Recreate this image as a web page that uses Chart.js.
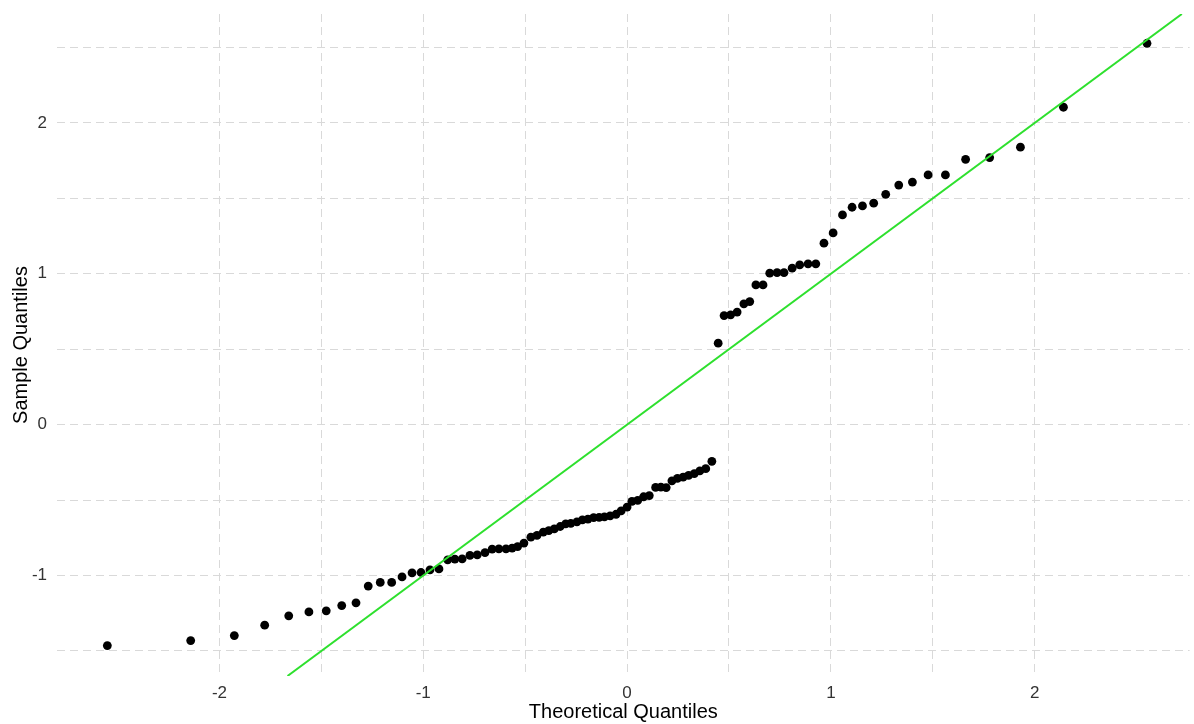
<!DOCTYPE html>
<html>
<head>
<meta charset="utf-8">
<script src="https://cdn.jsdelivr.net/npm/chart.js@4/dist/chart.umd.min.js"></script>
<style>
  html, body { margin: 0; padding: 0; background: #fff; }
  #wrap { width: 1194px; height: 724px; }
</style>
</head>
<body>
<div id="wrap"><canvas id="qq" width="1194" height="724"></canvas></div>
<script>
// theoretical quantiles (x) and sample quantiles (y)
const theoreticalQ = [
  -2.550, -2.141, -1.927, -1.778, -1.660, -1.561, -1.476, -1.400, -1.330, -1.270,
  -1.211, -1.155, -1.104, -1.055, -1.011, -0.967, -0.923, -0.880, -0.845, -0.809,
  -0.771, -0.735, -0.697, -0.662, -0.629, -0.594, -0.564, -0.537, -0.506, -0.472,
  -0.442, -0.411, -0.384, -0.357, -0.328, -0.301, -0.276, -0.246, -0.219, -0.192,
  -0.164, -0.137, -0.111, -0.083, -0.054, -0.029, 0.000, 0.024, 0.052, 0.081,
  0.109, 0.140, 0.166, 0.192, 0.220, 0.247, 0.275, 0.302, 0.330, 0.357,
  0.386, 0.416,
  0.447, 0.476, 0.508, 0.540, 0.573, 0.602, 0.632, 0.667, 0.700, 0.736,
  0.770, 0.810, 0.847, 0.888, 0.926, 0.966, 1.011, 1.057, 1.104, 1.155,
  1.210, 1.269, 1.333, 1.400, 1.477, 1.562, 1.661, 1.779, 1.930, 2.141,
  2.551
];
const sampleQ = [
  -1.464, -1.431, -1.398, -1.329, -1.267, -1.241, -1.234, -1.199, -1.181, -1.070,
  -1.046, -1.046, -1.009, -0.982, -0.980, -0.962, -0.956, -0.896, -0.891, -0.889,
  -0.867, -0.863, -0.848, -0.825, -0.823, -0.823, -0.818, -0.808, -0.785, -0.746,
  -0.734, -0.712, -0.702, -0.691, -0.675, -0.657, -0.654, -0.644, -0.631, -0.626,
  -0.616, -0.614, -0.611, -0.604, -0.594, -0.571, -0.546, -0.508, -0.502, -0.478,
  -0.470, -0.416, -0.414, -0.417, -0.372, -0.356, -0.348, -0.336, -0.324, -0.307,
  -0.292, -0.243,
  0.540, 0.723, 0.728, 0.746, 0.801, 0.816, 0.926, 0.926, 1.004, 1.008,
  1.008, 1.037, 1.059, 1.066, 1.066, 1.203, 1.271, 1.390, 1.441, 1.450,
  1.468, 1.527, 1.588, 1.608, 1.655, 1.655, 1.759, 1.770, 1.839, 2.104,
  2.528
];

// reference line y = intercept + slope * x
const lineSlope = 1;
const lineIntercept = 0;

const xTickLabels = [-2, -1, 0, 1, 2];
const yTickLabels = [-1, 0, 1, 2];

const xMin = -2.797, xMax = 2.76;
const yMin = -1.666, yMax = 2.722;

const points = theoreticalQ.map((x, i) => ({ x: x, y: sampleQ[i] }));
const linePts = [yMin, yMax].map(y => ({ x: (y - lineIntercept) / lineSlope, y: y }));

Chart.defaults.font.family = "'Liberation Sans', Arial, sans-serif";

function tickText(list) {
  return function (value) {
    const v = Math.round(value * 1000) / 1000;
    if (list.includes(v)) return String(v);
    if (Math.abs(v * 2 - Math.round(v * 2)) < 1e-6) return '';
    return null;
  };
}
function gridColor(c) {
  const v = c.tick ? c.tick.value : 0;
  return Math.abs(v * 2 - Math.round(v * 2)) < 1e-6 ? '#d9d9d9' : 'rgba(0,0,0,0)';
}

const ctx = document.getElementById('qq').getContext('2d');
new Chart(ctx, {
  type: 'scatter',
  data: {
    datasets: [
      {
        type: 'line',
        label: 'qq line',
        data: linePts,
        borderColor: '#2ee02e',
        borderWidth: 2,
        pointRadius: 0,
        fill: false
      },
      {
        label: 'sample',
        data: points,
        backgroundColor: '#000',
        borderWidth: 0,
        pointRadius: 4.4
      }
    ]
  },
  options: {
    responsive: false,
    animation: false,
    layout: { padding: { left: 0, right: 0, top: 14, bottom: 0 } },
    plugins: { legend: { display: false }, tooltip: { enabled: false } },
    scales: {
      x: {
        type: 'linear',
        min: xMin,
        max: xMax,
        afterFit: s => { s.height = 48; s.paddingLeft = 0; s.paddingRight = 0; },
        ticks: {
          stepSize: 0.5,
          callback: tickText(xTickLabels),
          color: '#333',
          font: { size: 17 },
          padding: 7,
          maxRotation: 0,
          autoSkip: false
        },
        grid: { color: gridColor, lineWidth: 1, drawTicks: false },
        border: { display: false, dash: [8, 5] },
        title: {
          display: true,
          text: 'Theoretical Quantiles',
          color: '#000',
          font: { size: 20 },
          padding: { top: 0, bottom: 0 }
        }
      },
      y: {
        type: 'linear',
        min: yMin,
        max: yMax,
        afterFit: s => { s.width = 57; s.paddingTop = 0; s.paddingBottom = 0; },
        ticks: {
          stepSize: 0.5,
          callback: tickText(yTickLabels),
          color: '#333',
          font: { size: 17 },
          padding: 10,
          autoSkip: false
        },
        grid: { color: gridColor, lineWidth: 1, drawTicks: false },
        border: { display: false, dash: [8, 5] },
        title: {
          display: true,
          text: 'Sample Quantiles',
          color: '#000',
          font: { size: 20 },
          padding: { top: 9, bottom: 0 }
        }
      }
    }
  }
});
</script>
</body>
</html>
